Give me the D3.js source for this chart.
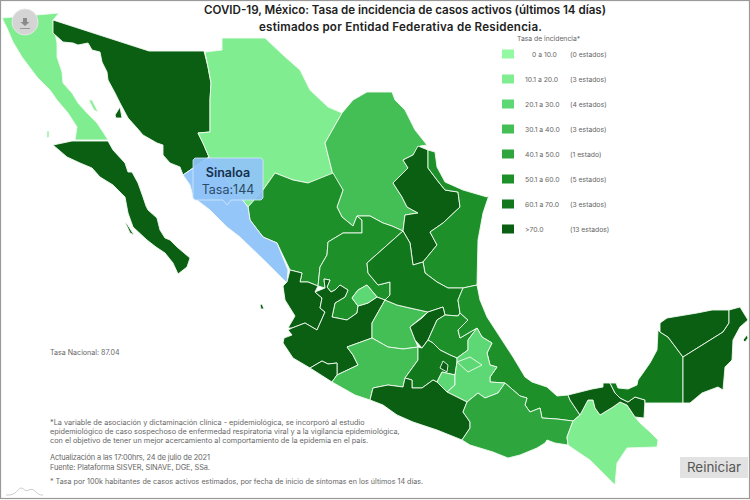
<!DOCTYPE html>
<html>
<head>
<meta charset="utf-8">
<script src="https://cdn.jsdelivr.net/npm/d3@7"></script>
<style>
  html, body { margin: 0; padding: 0; background: #fff; }
  svg { display: block; font-family: Inter, "Open Sans", sans-serif; }
</style>
</head>
<body>
<div id="map"></div>
<script>
// Legend data
var binLabels = ["0 a 10.0", "10.1 a 20.0", "20.1 a 30.0", "30.1 a 40.0", "40.1 a 50.0", "50.1 a 60.0", "60.1 a 70.0", ">70.0"];
var binCounts = ["(0 estados)", "(3 estados)", "(4 estados)", "(3 estados)", "(1 estado)", "(5 estados)", "(3 estados)", "(13 estados)"];
var binColors = ["#93f9a3", "#80ee90", "#5dd874", "#43bf55", "#2ea63d", "#1d9029", "#11781c", "#0a5f12"];

// Which legend bin each state falls in, -1 is the selected state
var stateNames = ["Baja California", "Baja California Sur", "Sonora", "Chihuahua", "Coahuila", "Nuevo León", "Tamaulipas", "Durango", "Zacatecas", "Sinaloa", "Nayarit", "Jalisco", "Colima", "Aguascalientes", "Guanajuato", "San Luis Potosí", "Querétaro", "Hidalgo", "Michoacán", "México", "Ciudad de México", "Morelos", "Veracruz", "Puebla", "Tlaxcala", "Guerrero", "Oaxaca", "Chiapas", "Tabasco", "Campeche", "Yucatán", "Quintana Roo"];
var stateBins = [1, 7, 7, 1, 3, 7, 5, 5, 5, -1, 7, 7, 7, 2, 3, 6, 7, 5, 3, 6, 7, 2, 5, 2, 2, 7, 4, 1, 7, 6, 7, 7];

// State outlines, in map grid units, same order as stateNames
var stateOutlines = [
  [[[2,18],[59,13],[53,20],[55,33],[57,43],[57,57],[62,72],[63,83],[72,93],[78,103],[87,113],[97,123],[103,132],[108,140],[75,140],[77,127],[68,113],[57,100],[50,90],[37,77],[28,65],[22,57],[13,42],[7,28]],
   [[89,100],[92,100],[98,112],[94,110]], [[47,131],[49,131],[49,137],[47,138]]],
  [[[53,145],[72,141],[108,141],[113,150],[125,163],[128,172],[132,172],[138,183],[143,197],[146,206],[148,210],[157,218],[160,230],[165,238],[170,240],[177,247],[190,258],[187,267],[178,274],[173,263],[165,253],[156,247],[147,240],[133,227],[128,213],[125,197],[113,185],[100,177],[92,168],[80,163],[67,157]],
   [[125,222],[127,224],[134,235],[130,233]]],
  [[[53,20],[149,51],[204,51],[208,67],[211,83],[210,100],[210,132],[198,133],[203,143],[209,157],[183,175],[180,167],[170,163],[163,155],[163,145],[157,143],[143,135],[137,128],[128,118],[120,103],[115,93],[108,80],[107,72],[102,62],[100,52],[92,50],[88,43],[78,45],[73,43],[63,42],[53,33]],
   [[115,115],[120,107],[122,118],[116,118]]],
  [[[205,52],[222,50],[222,38],[265,38],[283,55],[300,70],[310,90],[328,107],[342,113],[325,143],[333,175],[308,183],[293,180],[275,173],[263,190],[248,207],[209,157],[203,143],[198,133],[210,132],[210,100],[211,83],[208,67]]],
  [[[342,113],[353,100],[367,92],[392,92],[395,100],[405,110],[415,130],[427,145],[420,146],[413,155],[403,160],[408,168],[393,183],[402,197],[407,207],[418,213],[405,215],[403,231],[392,226],[383,223],[370,216],[357,216],[353,226],[342,217],[337,207],[343,190],[333,175],[325,143]]],
  [[[418,146],[428,150],[428,168],[437,180],[445,190],[458,192],[460,207],[443,223],[430,232],[437,245],[423,262],[413,265],[410,243],[403,231],[405,215],[418,213],[407,207],[402,197],[393,183],[408,168],[403,160],[413,155]]],
  [[[428,150],[435,152],[437,167],[445,182],[463,190],[487,197],[489,195],[483,213],[478,240],[477,285],[463,288],[448,288],[437,282],[425,273],[423,262],[437,245],[430,232],[443,223],[460,207],[458,192],[445,190],[437,180],[428,168]]],
  [[[275,173],[293,180],[308,183],[333,173],[343,190],[337,207],[342,217],[353,226],[357,216],[362,220],[362,233],[343,233],[328,242],[327,255],[320,267],[318,286],[308,282],[300,282],[302,273],[290,270],[277,243],[263,237],[250,220],[248,207],[263,190]]],
  [[[357,216],[370,216],[383,223],[392,226],[403,231],[367,263],[368,273],[378,285],[390,282],[390,295],[385,300],[377,297],[367,285],[358,290],[352,298],[358,306],[357,313],[347,320],[332,317],[335,303],[345,297],[348,290],[340,285],[335,290],[331,292],[327,287],[330,280],[324,279],[325,288],[318,286],[320,267],[327,255],[328,242],[343,233],[362,233],[362,220]]],
  [[[183,175],[209,157],[248,207],[250,220],[263,237],[277,243],[288,270],[287,283],[267,263],[240,237],[227,227],[210,210],[193,197],[190,185]]],
  [[[290,270],[302,273],[300,282],[308,282],[318,286],[315,292],[322,298],[320,308],[325,312],[317,330],[305,323],[292,328],[288,328],[295,316],[285,300],[283,286],[287,282]],
   [[260,305],[262,304],[264,309],[261,309]]],
  [[[292,328],[305,323],[317,330],[325,312],[320,308],[322,298],[315,292],[325,288],[324,279],[330,280],[327,287],[331,292],[335,290],[340,285],[348,290],[345,297],[335,303],[332,317],[347,320],[357,313],[358,306],[368,303],[377,297],[385,300],[372,323],[372,338],[347,347],[353,355],[358,365],[337,375],[337,363],[328,364],[322,361],[310,368],[293,358],[283,343],[284,338],[292,335],[288,330]]],
  [[[310,368],[322,361],[328,364],[337,363],[337,375],[332,382]]],
  [[[352,298],[358,290],[367,285],[377,297],[368,303],[358,306]]],
  [[[385,300],[397,305],[410,308],[428,312],[410,327],[415,340],[418,347],[403,349],[388,347],[372,338],[372,323]]],
  [[[403,231],[410,243],[413,265],[423,262],[425,273],[437,282],[448,288],[463,288],[458,300],[460,313],[458,316],[445,315],[443,307],[428,312],[410,308],[397,305],[385,300],[390,295],[390,282],[378,285],[368,273],[367,263]]],
  [[[410,327],[422,318],[428,312],[443,307],[445,315],[437,320],[428,340],[422,348],[415,340]]],
  [[[437,320],[445,315],[458,316],[460,313],[468,320],[458,330],[460,338],[477,328],[468,340],[468,350],[457,358],[450,355],[440,350],[433,343],[428,340]]],
  [[[347,347],[372,338],[388,347],[403,349],[418,347],[418,360],[405,378],[403,387],[388,385],[373,388],[370,400],[355,395],[332,382],[337,375],[358,365],[353,355]]],
  [[[418,347],[422,348],[428,340],[433,343],[440,350],[450,355],[457,358],[457,362],[455,375],[442,372],[437,382],[433,380],[422,388],[412,388],[412,380],[405,378],[418,360]]],
  [[[440,368],[443,361],[448,365],[447,372]]],
  [[[442,372],[455,375],[455,385],[447,392],[437,382]]],
  [[[463,288],[477,285],[480,300],[487,317],[500,337],[513,357],[525,377],[532,382],[547,387],[557,396],[568,395],[570,400],[580,415],[573,421],[557,419],[542,418],[540,408],[530,412],[525,405],[527,398],[520,396],[505,383],[490,382],[490,377],[497,367],[490,365],[487,353],[492,343],[482,337],[477,328],[460,338],[458,330],[468,320],[460,313],[458,300]]],
  [[[477,328],[482,337],[492,343],[487,353],[490,365],[497,367],[490,377],[490,382],[505,383],[498,393],[485,398],[478,393],[467,402],[447,392],[455,385],[455,375],[457,362],[457,358],[468,350],[468,340]]],
  [[[457,362],[470,357],[482,365],[468,372]]],
  [[[370,400],[373,388],[388,385],[403,387],[405,378],[412,380],[412,388],[422,388],[433,380],[437,382],[447,392],[467,402],[463,412],[470,422],[470,428],[462,440],[437,430],[413,422],[397,415],[383,405]]],
  [[[467,402],[478,393],[485,398],[498,393],[505,383],[520,396],[527,398],[525,405],[530,412],[540,408],[542,418],[557,419],[573,421],[567,437],[568,445],[555,443],[547,440],[545,443],[537,448],[520,455],[508,458],[493,452],[470,445],[462,440],[470,428],[470,422],[463,412]]],
  [[[573,421],[580,415],[588,400],[593,400],[595,408],[600,415],[613,407],[620,402],[627,405],[635,417],[640,423],[650,432],[658,440],[657,447],[627,448],[617,463],[615,485],[608,478],[590,460],[575,450],[568,445],[567,437]]],
  [[[568,395],[592,389],[603,387],[603,383],[610,383],[615,393],[620,398],[628,402],[635,397],[645,400],[644,418],[635,417],[627,405],[620,402],[613,407],[600,415],[595,408],[593,400],[588,400],[580,415],[570,400]]],
  [[[610,383],[616,383],[618,388],[628,389],[637,385],[638,380],[643,373],[650,363],[657,350],[658,330],[660,332],[668,337],[683,357],[683,403],[645,403],[645,400],[635,397],[628,402],[620,398],[615,393]]],
  [[[660,332],[660,323],[667,318],[697,313],[712,310],[729,310],[729,323],[723,332],[683,357],[668,337]]],
  [[[729,310],[740,307],[748,320],[740,327],[733,340],[732,360],[725,367],[723,390],[718,387],[702,393],[690,403],[683,403],[683,357],[723,332],[729,323]],
   [[743,340],[747,335],[748,338],[745,342]]]
];

// Selected state
var selectedState = "Sinaloa";
var selectedRate = 144;

// Text
var titleLines = ["COVID-19, México: Tasa de incidencia de casos activos (últimos 14 días)", "estimados por Entidad Federativa de Residencia."];
var noteLines = [
  "*La variable de asociación y dictaminación clínica - epidemiológica, se incorporó al estudio",
  "epidemiológico de caso sospechoso de enfermedad respiratoria viral y a la vigilancia epidemiológica,",
  "con el objetivo de tener un mejor acercamiento al comportamiento de la epidemia en el país."
];
var sourceLines = ["Actualización a las 17:00hrs, 24 de julio de 2021", "Fuente: Plataforma SISVER, SINAVE, DGE, SSa."];
var footNote = "* Tasa por 100k habitantes de casos activos estimados, por fecha de inicio de síntomas en los últimos 14 días.";

// svg container
var svgWidth = 750;
var svgHeight = 500;

var svg = d3.select("#map").append("svg")
  .attr("width", svgWidth)
  .attr("height", svgHeight);

// Colour of a state from its legend bin
var binScale = d3.scaleOrdinal().domain(d3.range(binColors.length)).range(binColors);

function stateColor(i) {
  return stateBins[i] < 0 ? "#94c6fa" : binScale(stateBins[i]);
}

// Outlines are already in picture units
var path = d3.geoPath(d3.geoIdentity());

var features = stateOutlines.map(function(rings, i) {
  return {
    type: "Feature",
    properties: { name: stateNames[i], index: i },
    geometry: { type: "MultiPolygon", coordinates: rings.map(function(r) { return [r.concat([r[0]])]; }) }
  };
});

svg.append("g").selectAll("path")
  .data(features)
  .enter()
  .append("path")
  .attr("d", path)
  .attr("fill", function(d) { return stateColor(d.properties.index); })
  .attr("stroke", "#f2fbf2")
  .attr("stroke-width", 0.9)
  .attr("stroke-linejoin", "round")
  .append("title")
  .text(function(d) { return d.properties.name; });

// Title
svg.append("g").selectAll("text")
  .data(titleLines)
  .enter()
  .append("text")
  .attr("x", function(d, i) { return i === 0 ? 204 : 259; })
  .attr("y", function(d, i) { return 14 + i * 17; })
  .attr("textLength", function(d, i) { return i === 0 ? 402 : 283; })
  .attr("font-size", 11.6)
  .attr("font-weight", 600)
  .attr("fill", "#222")
  .text(function(d) { return d; });

// Legend
svg.append("text")
  .attr("x", 517).attr("y", 41)
  .attr("font-size", 6.8).attr("fill", "#666")
  .text("Tasa de incidencia*");

var legendY = d3.scalePoint().domain(binLabels).range([54, 229]);

var legend = svg.append("g").selectAll("g")
  .data(binLabels)
  .enter()
  .append("g")
  .attr("transform", function(d) { return "translate(0," + legendY(d) + ")"; });

legend.append("rect")
  .attr("x", 502).attr("y", -4.5)
  .attr("width", 12).attr("height", 9)
  .attr("fill", function(d, i) { return binColors[i]; });

legend.append("text")
  .attr("x", function(d, i) { return i === 0 ? 532 : 525; })
  .attr("y", 2.5)
  .attr("font-size", 6.8).attr("fill", "#666")
  .text(function(d) { return d; });

legend.append("text")
  .attr("x", 570)
  .attr("y", 2.5)
  .attr("font-size", 6.8).attr("fill", "#666")
  .text(function(d, i) { return binCounts[i]; });

// Notes
var noteStyle = function(sel) {
  return sel.attr("fill", "#666");
};

svg.append("text").attr("x", 50).attr("y", 355).attr("font-size", 7.1).call(noteStyle).text("Tasa Nacional: 87.04");

svg.append("g").selectAll("text")
  .data(noteLines)
  .enter()
  .append("text")
  .attr("x", 50)
  .attr("y", function(d, i) { return 425 + i * 8.8; })
  .attr("font-size", 7.3)
  .call(noteStyle)
  .text(function(d) { return d; });

svg.append("g").selectAll("text")
  .data(sourceLines)
  .enter()
  .append("text")
  .attr("x", 50)
  .attr("y", function(d, i) { return 460 + i * 10; })
  .attr("textLength", 160)
  .attr("font-size", 7.4)
  .call(noteStyle)
  .text(function(d) { return d; });

svg.append("text").attr("x", 50).attr("y", 484).attr("font-size", 7.2).call(noteStyle).text(footNote);

// Tooltip
var tip = svg.append("g");
tip.append("path")
  .attr("d", d3.line()([[195,158],[261,158],[263,160],[263,198],[261,200],[231,200],[227,205],[223,200],[195,200],[193,198],[193,160]]) + "Z")
  .attr("fill", "#90c4f8")
  .attr("fill-opacity", 0.93)
  .attr("stroke", "#d4e8fb")
  .attr("stroke-width", 0.8);
tip.append("text")
  .attr("x", 228).attr("y", 177)
  .attr("text-anchor", "middle")
  .attr("font-size", 12.5).attr("font-weight", 600).attr("fill", "#16304f")
  .text(selectedState);
tip.append("text")
  .attr("x", 228).attr("y", 194)
  .attr("text-anchor", "middle")
  .attr("font-size", 12.5).attr("fill", "#2c4a68")
  .text("Tasa:" + selectedRate);

// Download button
svg.append("circle")
  .attr("cx", 25).attr("cy", 22).attr("r", 13)
  .attr("fill", "#d4d4d4").attr("stroke", "#e6e6e6");
svg.append("path")
  .attr("d", d3.line()([[23,18],[27,18],[27,22],[29.5,22],[25,26],[20.5,22],[23,22]]) + "Z")
  .attr("fill", "#8a8a8a");
svg.append("rect").attr("x", 20).attr("y", 28).attr("width", 10).attr("height", 1).attr("fill", "#999");

// Reset button
svg.append("rect")
  .attr("x", 680).attr("y", 457)
  .attr("width", 68).attr("height", 21)
  .attr("fill", "#e2e2e2");
svg.append("text")
  .attr("x", 714).attr("y", 472)
  .attr("text-anchor", "middle")
  .attr("font-size", 13.4).attr("fill", "#555")
  .text("Reiniciar");

// Small mountain logo, bottom left
svg.append("path")
  .attr("d", d3.line().curve(d3.curveBasis)([[6,495],[15,495],[21,485],[26,493],[32,487],[38,495],[43,495]]))
  .attr("fill", "none").attr("stroke", "#aaa").attr("stroke-width", 0.6);

// Frame
svg.append("rect")
  .attr("x", 0.5).attr("y", 0.5)
  .attr("width", svgWidth - 1).attr("height", svgHeight - 2)
  .attr("fill", "none").attr("stroke", "#999").attr("stroke-width", 1.2);
</script>
</body>
</html>
